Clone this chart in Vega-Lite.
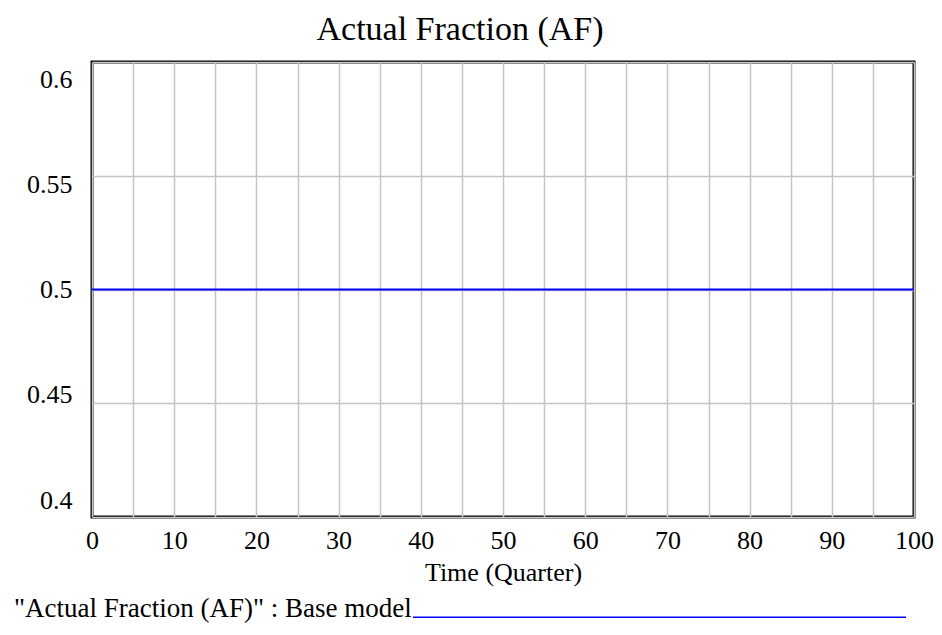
{
  "$schema": "https://vega.github.io/schema/vega-lite/v6.json",
  "width": 822,
  "height": 455,
  "autosize": {"type": "none"},
  "padding": {"left": 92, "top": 62, "right": 28, "bottom": 118},
  "background": "white",
  "title": {
    "text": "Actual Fraction (AF)",
    "font": "Liberation Serif",
    "fontSize": 34,
    "fontWeight": "normal",
    "color": "black",
    "offset": 15,
    "dx": -43
  },
  "config": {
    "view": {"stroke": "black", "strokeWidth": 3},
    "font": "Liberation Serif"
  },
  "data": {
    "values": [
      {"time": 0, "value": 0.5, "series": "\"Actual Fraction (AF)\" : Base model"},
      {"time": 10, "value": 0.5, "series": "\"Actual Fraction (AF)\" : Base model"},
      {"time": 20, "value": 0.5, "series": "\"Actual Fraction (AF)\" : Base model"},
      {"time": 30, "value": 0.5, "series": "\"Actual Fraction (AF)\" : Base model"},
      {"time": 40, "value": 0.5, "series": "\"Actual Fraction (AF)\" : Base model"},
      {"time": 50, "value": 0.5, "series": "\"Actual Fraction (AF)\" : Base model"},
      {"time": 60, "value": 0.5, "series": "\"Actual Fraction (AF)\" : Base model"},
      {"time": 70, "value": 0.5, "series": "\"Actual Fraction (AF)\" : Base model"},
      {"time": 80, "value": 0.5, "series": "\"Actual Fraction (AF)\" : Base model"},
      {"time": 90, "value": 0.5, "series": "\"Actual Fraction (AF)\" : Base model"},
      {"time": 100, "value": 0.5, "series": "\"Actual Fraction (AF)\" : Base model"}
    ]
  },
  "mark": {"type": "line", "strokeWidth": 2, "clip": true},
  "encoding": {
    "x": {
      "field": "time",
      "type": "quantitative",
      "scale": {"domain": [0, 100], "nice": false, "zero": false},
      "axis": {
        "values": [0, 5, 10, 15, 20, 25, 30, 35, 40, 45, 50, 55, 60, 65, 70, 75, 80, 85, 90, 95, 100],
        "labelExpr": "datum.value % 10 === 0 ? format(datum.value, 'd') : ''",
        "title": "Time (Quarter)",
        "titleFont": "Liberation Serif",
        "titleFontSize": 26,
        "titleFontWeight": "normal",
        "titleColor": "black",
        "titlePadding": 6,
        "labelFont": "Liberation Serif",
        "labelFontSize": 26,
        "labelColor": "black",
        "labelPadding": 10,
        "labelFlush": false,
        "labelOverlap": false,
        "ticks": false,
        "domain": false,
        "grid": true,
        "gridColor": "#c4c4c4",
        "gridWidth": 1.5
      }
    },
    "y": {
      "field": "value",
      "type": "quantitative",
      "scale": {"domain": [0.4, 0.6], "nice": false, "zero": false},
      "axis": {
        "values": [0.4, 0.45, 0.5, 0.55, 0.6],
        "labelExpr": "format(datum.value, '~g')",
        "title": null,
        "labelFont": "Liberation Serif",
        "labelFontSize": 26,
        "labelColor": "black",
        "labelPadding": 20,
        "labelOffset": {"expr": "(datum.value - 0.5) * 170"},
        "labelOverlap": false,
        "labelFlush": false,
        "ticks": false,
        "domain": false,
        "grid": true,
        "gridColor": "#c4c4c4",
        "gridWidth": 1.5
      }
    },
    "color": {
      "field": "series",
      "type": "nominal",
      "scale": {"range": ["#0000ff"]},
      "legend": {
        "title": null,
        "orient": "none",
        "legendX": -80,
        "legendY": 299,
        "padding": 0,
        "symbolType": "M-1,0.036H1",
        "symbolSize": 243049,
        "symbolStrokeWidth": 1.5,
        "symbolOffset": 400,
        "labelOffset": -893,
        "labelFont": "Liberation Serif",
        "labelFontSize": 27,
        "labelColor": "black",
        "labelLimit": 0
      }
    }
  }
}
